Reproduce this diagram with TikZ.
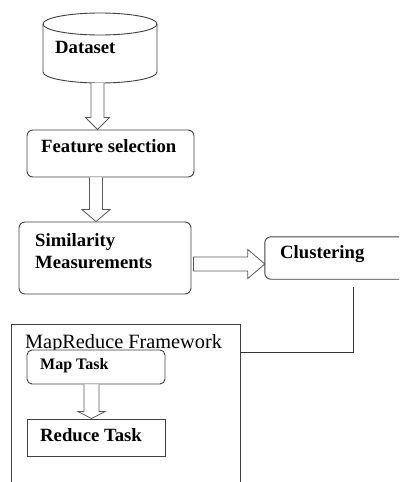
\documentclass[tikz,border=0pt]{standalone}
\usepackage{fontspec}
\setmainfont{Liberation Serif}
\usetikzlibrary{calc}
\begin{document}
\begin{tikzpicture}[x=1pt,y=-1pt,
  box/.style={draw=black!75, line width=0.9pt, rounded corners=6pt, inner sep=0pt},
  sbox/.style={draw=black!75, line width=0.9pt, inner sep=0pt},
  lbl/.style={font=\bfseries\fontsize{18.7}{22}\selectfont, anchor=base west, inner sep=0pt},
  slbl/.style={font=\bfseries\fontsize{16}{19}\selectfont, anchor=base west, inner sep=0pt},
  rlbl/.style={font=\fontsize{20.3}{24}\selectfont, anchor=base west, inner sep=0pt},
  barrow/.style={draw=black!65, line width=0.8pt, fill=white, line join=miter},
  conn/.style={draw=black!80, line width=0.9pt}]
\useasboundingbox (0,0) rectangle (401,482);
% Dataset cylinder
\draw[draw=black!75, line width=0.9pt, fill=white] (43,24) -- (43,72) arc[start angle=180, end angle=0, x radius=57, y radius=11] -- (157,24);
\draw[draw=black!75, line width=0.9pt] (100,24) ellipse[x radius=57, y radius=11];
\coordinate (dsb) at (97.5,83);
\node[lbl] (dst) at (55,53) {Dataset};
% Feature selection
\node[box, minimum width=167pt, minimum height=47pt] (fs) at (110.5,153.5) {};
\node[lbl] (fst) at (41,152) {Feature selection};
% Similarity
\node[box, minimum width=172pt, minimum height=72pt] (sm) at (105,258) {};
\node[lbl] (smt1) at (35,246) {Similarity};
\node[lbl] (smt2) at (35,268) {Measurements};
% Clustering (box runs off the right edge)
\node[inner sep=0pt, minimum width=134pt, minimum height=42pt] (cl) at (332,258) {};
\draw[draw=black!75, line width=0.9pt, rounded corners=6pt] (cl.north east) -| (cl.south west) -- (cl.south east);
\node[lbl] (clt) at (280,258) {Clustering};
\coordinate (clb) at (353,287);
% MapReduce framework (box runs off the bottom edge)
\node[inner sep=0pt, minimum width=228pt, minimum height=180pt] (fw) at (126,415) {};
\draw[draw=black!75, line width=0.9pt] (fw.south west) |- (fw.north east) -- (fw.south east);
\node[rlbl] (fwt) at (25,348) {MapReduce Framework};
\coordinate (fwe) at (240,352);
% Map task
\node[box, rounded corners=5pt, fill=white, minimum width=138pt, minimum height=34pt] (mt) at (96,367) {};
\node[slbl] (mtt) at (40,369) {Map Task};
% Reduce task
\node[sbox, minimum width=138pt, minimum height=37pt] (rt) at (96,437.5) {};
\node[lbl] (rtt) at (40,441) {Reduce Task};
% block arrows (vertical)
\draw[barrow] let \p1=(dsb), \p2=($(fs.north)+(-13pt,0)$) in
  (\x1-6.5pt,\y1) -- (\x1-6.5pt,\y2+12pt) -- (\x1-12pt,\y2+12pt) -- (\x1,\y2) -- (\x1+12pt,\y2+12pt) -- (\x1+6.5pt,\y2+12pt) -- (\x1+6.5pt,\y1);
\draw[barrow] let \p1=($(fs.south)+(-14.5pt,0)$), \p2=(sm.north) in
  (\x1-6.5pt,\y1) -- (\x1-6.5pt,\y2+12pt) -- (\x1-14pt,\y2+12pt) -- (\x1,\y2) -- (\x1+14pt,\y2+12pt) -- (\x1+6.5pt,\y2+12pt) -- (\x1+6.5pt,\y1);
\draw[barrow] let \p1=($(mt.south)+(-4.5pt,0)$), \p2=(rt.north) in
  (\x1-7.5pt,\y1) -- (\x1-7.5pt,\y2+7pt) -- (\x1-13.5pt,\y2+7pt) -- (\x1,\y2) -- (\x1+13.5pt,\y2+7pt) -- (\x1+7.5pt,\y2+7pt) -- (\x1+7.5pt,\y1);
% block arrow (horizontal)
\draw[barrow] let \p1=($(sm.east)+(2pt,-6pt)$), \p2=($(cl.west)+(0,-6pt)$) in
  (\x1,\y1+7pt) -- (\x2-17pt,\y1+7pt) -- (\x2-17pt,\y1+14.5pt) -- (\x2,\y2) -- (\x2-17pt,\y1-14.5pt) -- (\x2-17pt,\y1-7pt) -- (\x1,\y1-7pt) -- cycle;
% connector
\draw[conn] (clb) |- (fwe);
\end{tikzpicture}
\end{document}
